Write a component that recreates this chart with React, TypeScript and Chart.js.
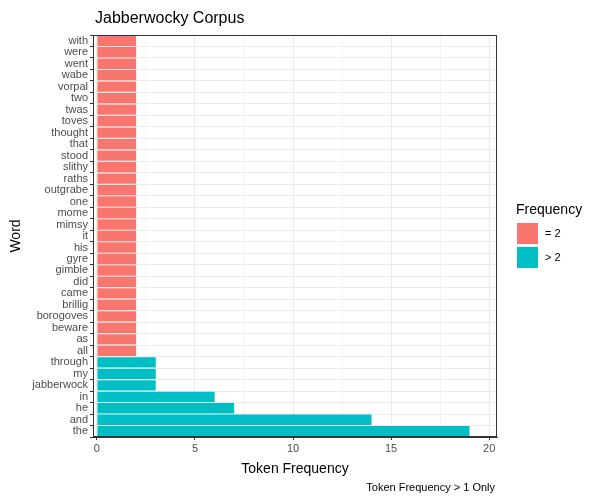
import React, { useEffect, useRef } from "react";
import Chart from "chart.js/auto";

const words = [
  "with", "were", "went", "wabe", "vorpal", "two", "twas", "toves", "thought", "that",
  "stood", "slithy", "raths", "outgrabe", "one", "mome", "mimsy", "it", "his", "gyre",
  "gimble", "did", "came", "brillig", "borogoves", "beware", "as", "all",
  "through", "my", "jabberwock", "in", "he", "and", "the",
];
const counts = [
  2, 2, 2, 2, 2, 2, 2, 2, 2, 2,
  2, 2, 2, 2, 2, 2, 2, 2, 2, 2,
  2, 2, 2, 2, 2, 2, 2, 2,
  3, 3, 3, 6, 7, 14, 19,
];
const xTicks = [0, 5, 10, 15, 20];
const legendItems = ["= 2", "> 2"];
const legendColors = ["#F8766D", "#00BFC4"];

const FONT = "'Liberation Sans', Arial, sans-serif";

export default function App() {
  const canvasRef = useRef<HTMLCanvasElement | null>(null);

  useEffect(() => {
    if (!canvasRef.current) return;
    const eq2 = counts.map((c) => (c === 2 ? c : null));
    const gt2 = counts.map((c) => (c > 2 ? c : null));

    const chart = new Chart(canvasRef.current, {
      type: "bar",
      data: {
        labels: words,
        datasets: [
          { label: legendItems[0], data: eq2, backgroundColor: legendColors[0], barPercentage: 0.9, categoryPercentage: 1 },
          { label: legendItems[1], data: gt2, backgroundColor: legendColors[1], barPercentage: 0.9, categoryPercentage: 1 },
        ],
      },
      options: {
        indexAxis: "y",
        animation: false,
        responsive: false,
        maintainAspectRatio: false,
        layout: { padding: { left: 4, right: 103, top: 35, bottom: 22 } },
        plugins: {
          title: { display: false },
          legend: { display: false },
          tooltip: { enabled: false },
        },
        scales: {
          x: {
            stacked: true,
            min: -0.2,
            max: 20.4,
            afterFit: (axis: any) => { axis.height = 41; },
            afterBuildTicks: (axis: any) => {
              const t: any[] = [];
              for (let v = 0; v <= 20; v += 2.5) t.push({ value: v });
              axis.ticks = t;
            },
            ticks: {
              color: "#4d4d4d",
              font: { family: FONT, size: 11 },
              padding: 2,
              callback: (v: any) => (xTicks.includes(Number(v)) ? String(v) : ""),
            },
            grid: {
              color: (ctx: any) => (xTicks.includes(ctx.tick?.value) ? "#ebebeb" : "#f4f4f4"),
              tickColor: (ctx: any) => (xTicks.includes(ctx.tick?.value) ? "#333" : "transparent"),
              tickLength: 3,
            },
            border: { color: "#333", width: 1 },
            title: {
              display: true,
              text: "Token Frequency",
              color: "#000",
              font: { family: FONT, size: 14 },
              padding: { top: 2, bottom: 0 },
            },
          },
          y: {
            stacked: true,
            afterFit: (axis: any) => { axis.width = 89; },
            ticks: { color: "#4d4d4d", font: { family: FONT, size: 11 }, autoSkip: false, padding: 2 },
            grid: { color: "#ebebeb", tickColor: "#333", tickLength: 3 },
            border: { color: "#333", width: 1 },
            title: {
              display: true,
              text: "Word",
              color: "#000",
              font: { family: FONT, size: 14 },
            },
          },
        },
      },
      plugins: [
        {
          id: "decor",
          afterDraw: (c: any) => {
            const { left, right, top, bottom } = c.chartArea;
            const ctx = c.ctx;
            ctx.save();
            ctx.strokeStyle = "#333";
            ctx.lineWidth = 1;
            ctx.strokeRect(left + 0.5, top + 0.5, right - left - 1, bottom - top - 1);

            ctx.fillStyle = "#000";
            ctx.textBaseline = "alphabetic";
            ctx.textAlign = "left";
            ctx.font = `16px ${FONT}`;
            ctx.fillText("Jabberwocky Corpus", left + 2, 23);

            ctx.font = `11px ${FONT}`;
            ctx.textAlign = "right";
            ctx.fillText("Token Frequency > 1 Only", right - 2, 491);

            ctx.textAlign = "left";
            ctx.font = `14px ${FONT}`;
            ctx.fillText("Frequency", 516, 214);
            ctx.font = `11px ${FONT}`;
            legendItems.forEach((name, i) => {
              const y = 222 + i * 24;
              ctx.fillStyle = legendColors[i];
              ctx.fillRect(517, y + 1, 21, 21);
              ctx.fillStyle = "#000";
              ctx.textBaseline = "middle";
              ctx.fillText(name, 545, y + 12);
            });
            ctx.restore();
          },
        },
      ],
    });
    return () => chart.destroy();
  }, []);

  return (
    <div style={{ position: "fixed", left: 0, top: 0, width: 600, height: 500, background: "#fff" }}>
      <canvas ref={canvasRef} width={600} height={500} />
    </div>
  );
}
